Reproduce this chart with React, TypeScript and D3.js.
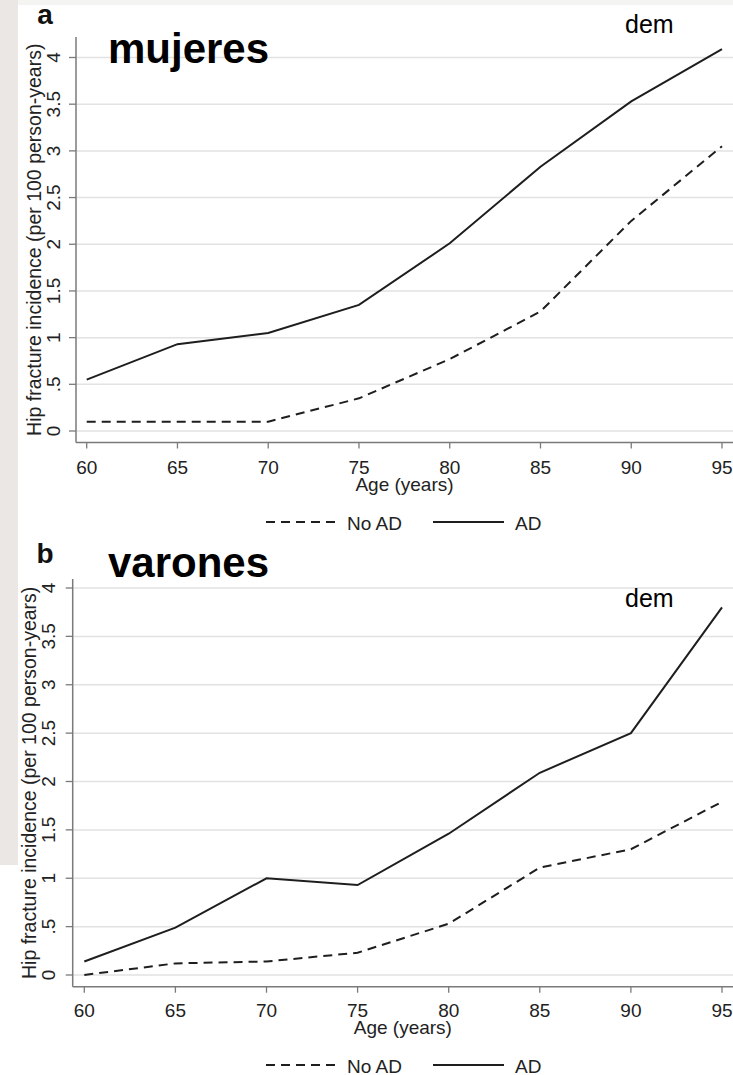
import React, { useEffect, useRef } from 'react';
import * as d3 from 'd3';

// ages on the x axis
const ages = [60, 65, 70, 75, 80, 85, 90, 95];

// hip fracture incidence per 100 person-years
const womenNoAD = [0.1, 0.1, 0.1, 0.35, 0.77, 1.28, 2.25, 3.05];
const womenAD = [0.55, 0.93, 1.05, 1.35, 2.01, 2.83, 3.53, 4.09];
const menNoAD = [0.0, 0.12, 0.14, 0.23, 0.53, 1.11, 1.3, 1.79];
const menAD = [0.14, 0.49, 1.0, 0.93, 1.46, 2.09, 2.5, 3.8];

const yTicks = [0, 0.5, 1, 1.5, 2, 2.5, 3, 3.5, 4];
const yTickLabels = ['0', '.5', '1', '1.5', '2', '2.5', '3', '3.5', '4'];

const legendLabels = ['No AD', 'AD'];

interface Panel {
  letter: string;
  title: string;
  noAD: number[];
  ad: number[];
  axisX: number;
  axisTop: number;
  baseY: number;
  y0: number;
  y4: number;
  x0: number;
  x1: number;
  demY: number;
  letterY: number;
  titleY: number;
  tickLabelY: number;
  xTitleY: number;
  legendY: number;
  yTickLabelX: number;
  yTitleX: number;
}

const panels: Panel[] = [
  {
    letter: 'a', title: 'mujeres', noAD: womenNoAD, ad: womenAD,
    axisX: 76, axisTop: 37, baseY: 442.5, y0: 431, y4: 57.5, x0: 86.7, x1: 722,
    demY: 33, letterY: 24, titleY: 63, tickLabelY: 474, xTitleY: 491, legendY: 522,
    yTickLabelX: 60, yTitleX: 41,
  },
  {
    letter: 'b', title: 'varones', noAD: menNoAD, ad: menAD,
    axisX: 72.7, axisTop: 579, baseY: 986.7, y0: 975, y4: 588, x0: 84.3, x1: 722,
    demY: 607, letterY: 563, titleY: 577, tickLabelY: 1017, xTitleY: 1034, legendY: 1065,
    yTickLabelX: 55, yTitleX: 36,
  },
];

const W = 733;
const H = 1075;
const FONT = '"Liberation Sans", Arial, Helvetica, sans-serif';

export default function App() {
  const svgRef = useRef<SVGSVGElement>(null);

  useEffect(() => {
    if (!svgRef.current) return;
    const svg = d3.select(svgRef.current);
    svg.selectAll('*').remove();

    svg.append('rect').attr('width', W).attr('height', H).attr('fill', '#ffffff');
    // scan artefacts: grey strip on the left and a pale band at the top
    svg.append('rect').attr('x', 0).attr('y', 0).attr('width', 18).attr('height', 865).attr('fill', '#ebe7e4');
    svg.append('rect').attr('x', 18).attr('y', 0).attr('width', W - 18).attr('height', 5).attr('fill', '#f4f4f2');

    panels.forEach((p) => {
      const g = svg.append('g').style('font-family', FONT);

      const x = d3.scaleLinear().domain([60, 95]).range([p.x0, p.x1]);
      const y = d3.scaleLinear().domain([0, 4]).range([p.y0, p.y4]);

      // grid
      g.selectAll('.grid')
        .data(yTicks)
        .enter().append('line')
        .attr('x1', p.axisX).attr('x2', W)
        .attr('y1', (d) => y(d)).attr('y2', (d) => y(d))
        .attr('stroke', '#e2e2e2').attr('stroke-width', 1.5);

      // axes
      g.append('line')
        .attr('x1', p.axisX).attr('x2', p.axisX)
        .attr('y1', p.axisTop).attr('y2', p.baseY)
        .attr('stroke', '#7a7a7a').attr('stroke-width', 1.5);
      g.append('line')
        .attr('x1', p.axisX).attr('x2', W)
        .attr('y1', p.baseY).attr('y2', p.baseY)
        .attr('stroke', '#7a7a7a').attr('stroke-width', 1.5);

      // y ticks + labels
      g.selectAll('.ytick')
        .data(yTicks)
        .enter().append('line')
        .attr('x1', p.axisX - 7).attr('x2', p.axisX)
        .attr('y1', (d) => y(d)).attr('y2', (d) => y(d))
        .attr('stroke', '#7a7a7a').attr('stroke-width', 1.3);
      g.selectAll('.ylab')
        .data(yTicks)
        .enter().append('text')
        .attr('transform', (d) => `translate(${p.yTickLabelX},${y(d)}) rotate(-90)`)
        .attr('text-anchor', 'middle')
        .style('font-size', '19px')
        .attr('fill', '#222')
        .text((_, i) => yTickLabels[i]);

      g.append('text')
        .attr('transform', `translate(${p.yTitleX},${(p.axisTop + p.baseY) / 2}) rotate(-90)`)
        .attr('text-anchor', 'middle')
        .style('font-size', '19.5px')
        .attr('fill', '#222')
        .text('Hip fracture incidence (per 100 person-years)');

      // x ticks + labels
      g.selectAll('.xtick')
        .data(ages)
        .enter().append('line')
        .attr('x1', (d) => x(d)).attr('x2', (d) => x(d))
        .attr('y1', p.baseY).attr('y2', p.baseY + 6)
        .attr('stroke', '#7a7a7a').attr('stroke-width', 1.3);
      g.selectAll('.xlab')
        .data(ages)
        .enter().append('text')
        .attr('x', (d) => x(d)).attr('y', p.tickLabelY)
        .attr('text-anchor', 'middle')
        .style('font-size', '19px')
        .attr('fill', '#222')
        .text((d) => String(d));

      g.append('text')
        .attr('x', (p.axisX + W) / 2).attr('y', p.xTitleY)
        .attr('text-anchor', 'middle')
        .style('font-size', '19px')
        .attr('fill', '#222')
        .text('Age (years)');

      // series
      const line = d3.line<number>()
        .x((_, i) => x(ages[i]))
        .y((d) => y(d));

      g.append('path')
        .attr('d', line(p.noAD) || '')
        .attr('fill', 'none').attr('stroke', '#1e1e1e').attr('stroke-width', 2)
        .attr('stroke-dasharray', '9,6');
      g.append('path')
        .attr('d', line(p.ad) || '')
        .attr('fill', 'none').attr('stroke', '#1e1e1e').attr('stroke-width', 2);

      // legend
      g.append('line')
        .attr('x1', 266).attr('x2', 337).attr('y1', p.legendY).attr('y2', p.legendY)
        .attr('stroke', '#1e1e1e').attr('stroke-width', 2).attr('stroke-dasharray', '9,6');
      g.append('text')
        .attr('x', 347).attr('y', p.legendY + 7.5)
        .style('font-size', '19px').attr('fill', '#222')
        .text(legendLabels[0]);
      g.append('line')
        .attr('x1', 433).attr('x2', 504).attr('y1', p.legendY).attr('y2', p.legendY)
        .attr('stroke', '#1e1e1e').attr('stroke-width', 2);
      g.append('text')
        .attr('x', 515).attr('y', p.legendY + 7.5)
        .style('font-size', '19px').attr('fill', '#222')
        .text(legendLabels[1]);

      // panel letter, title, annotation
      g.append('text')
        .attr('x', 45).attr('y', p.letterY)
        .attr('text-anchor', 'middle')
        .style('font-size', '28px').style('font-weight', 'bold')
        .attr('fill', '#111')
        .text(p.letter);
      g.append('text')
        .attr('x', 108).attr('y', p.titleY)
        .style('font-size', '42px').style('font-weight', 'bold')
        .attr('fill', '#000')
        .text(p.title);
      g.append('text')
        .attr('x', 625).attr('y', p.demY)
        .style('font-size', '25px')
        .attr('fill', '#000')
        .text('dem');
    });
  }, []);

  return (
    <svg
      ref={svgRef}
      width={W}
      height={H}
      style={{ position: 'absolute', left: 0, top: 0 }}
    />
  );
}
